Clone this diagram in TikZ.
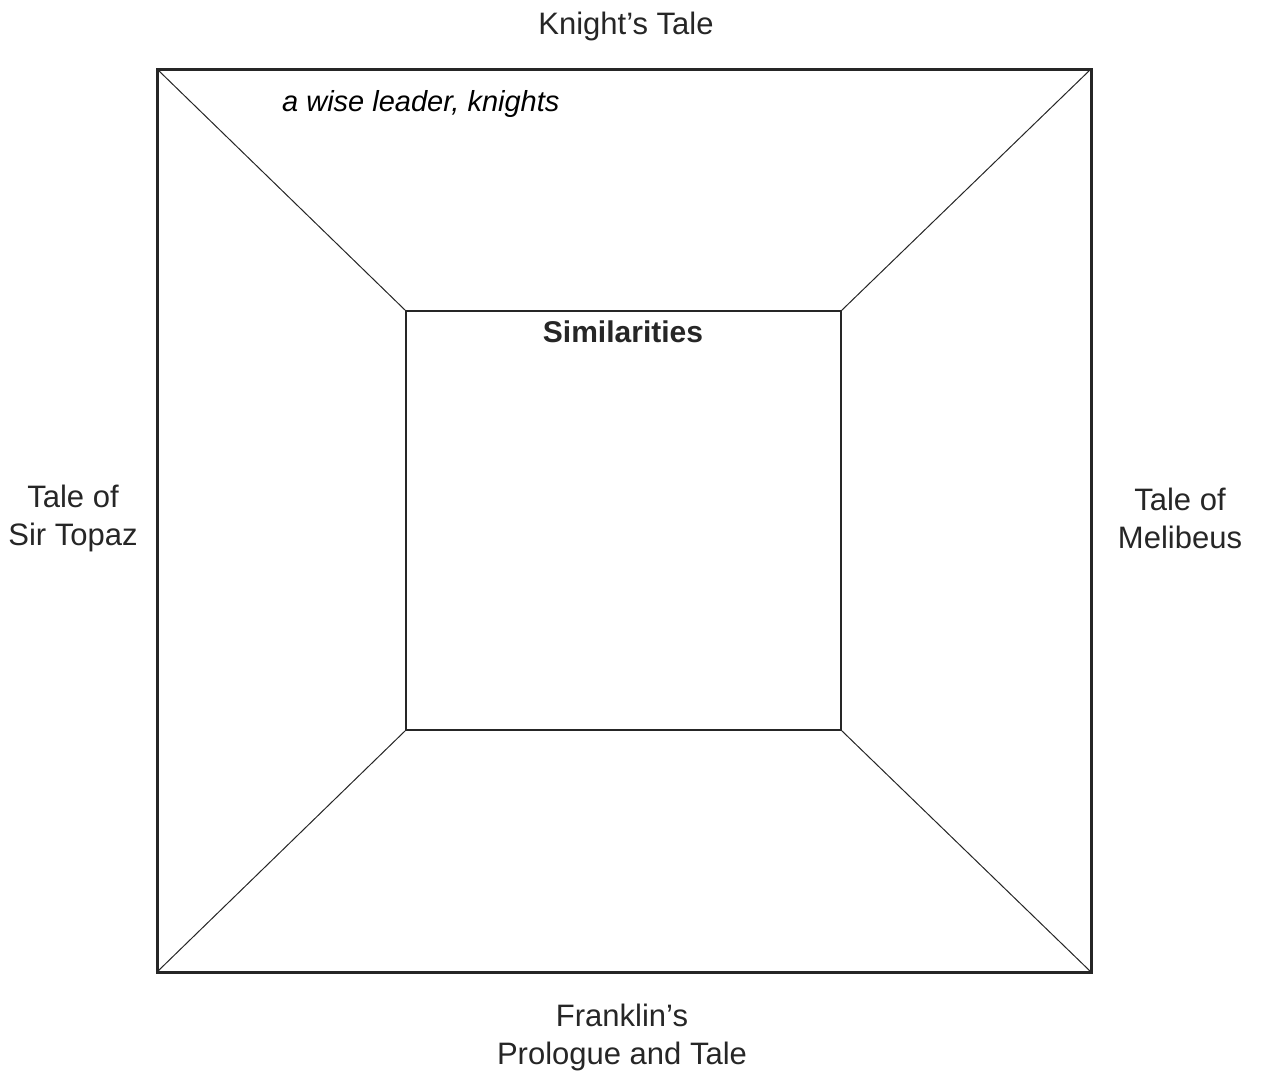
\documentclass[tikz,border=0pt]{standalone}
\usepackage{fontspec}
\setmainfont{Liberation Sans}
\begin{document}
\begin{tikzpicture}[x=1pt,y=-1pt,
  lbl/.style={font=\fontsize{31}{38}\selectfont, align=center, text=black!85, inner sep=0pt},
  frame/.style={draw=black!85, line width=3pt},
  diag/.style={draw=black!85, line width=1pt}]
\useasboundingbox (0,0) rectangle (1261,1076);
\coordinate (o1) at (157,69);
\coordinate (o2) at (1091,69);
\coordinate (o3) at (1091,972);
\coordinate (o4) at (157,972);
\coordinate (i1) at (406,311);
\coordinate (i2) at (841,311);
\coordinate (i3) at (841,730);
\coordinate (i4) at (406,730);
\draw[diag] (o1) -- (i1);
\draw[diag] (o2) -- (i2);
\draw[diag] (o3) -- (i3);
\draw[diag] (o4) -- (i4);
\draw[frame] (o1) -- (o2) -- (o3) -- (o4) -- cycle;
\draw[frame, line width=2.6pt] (i1) -- (i2) -- (i3) -- (i4) -- cycle;
\node[lbl] (kt) at (626,26) {Knight’s Tale};
\node[lbl] (st) at (73,518) {Tale of\\Sir Topaz};
\node[lbl] (mt) at (1180,518) {Tale of\\Melibeus};
\node[lbl] (ft) at (622,1037) {Franklin’s\\Prologue and Tale};
\node[lbl, font=\bfseries\fontsize{30}{36}\selectfont] (sim) at (623,332) {Similarities};
\node[inner sep=0pt, font=\itshape\fontsize{29}{36}\selectfont, anchor=west] (note) at (282,104) {a wise leader, knights};
\end{tikzpicture}
\end{document}
